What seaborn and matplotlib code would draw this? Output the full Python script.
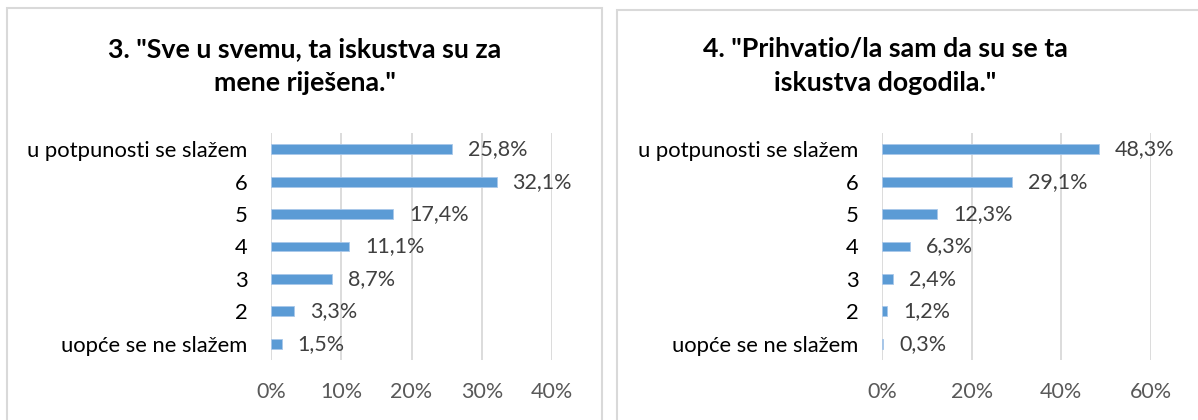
# -*- coding: utf-8 -*-

### Two horizontal bar charts, survey items 3 and 4 ###

import pandas as pd
import matplotlib
matplotlib.use("Agg")
import matplotlib.pyplot as plt
from matplotlib.patches import Rectangle
import seaborn as sns

sns.set_style("white")
plt.rcParams['font.family'] = ['Lato', 'DejaVu Sans']

## data ##
categories = ["u potpunosti se slažem", "6", "5", "4", "3", "2", "uopće se ne slažem"]
item3_values = [25.8, 32.1, 17.4, 11.1, 8.7, 3.3, 1.5]
item4_values = [48.3, 29.1, 12.3, 6.3, 2.4, 1.2, 0.3]
item3_title = '3. "Sve u svemu, ta iskustva su za\nmene riješena."'
item4_title = '4. "Prihvatio/la sam da su se ta\niskustva dogodila."'
item3_ticks = [0, 10, 20, 30, 40]
item4_ticks = [0, 20, 40, 60]

bar_color = '#5B9BD5'
grid_color = '#D9D9D9'

W, H = 1198, 420
fig = plt.figure(figsize=(W / 100, H / 100), dpi=100)


def px(x0, y0, x1, y1):
    # pixel box (top-left origin) -> figure fraction rect
    return [x0 / W, 1 - y1 / H, (x1 - x0) / W, (y1 - y0) / H]


def draw_panel(box, values, ticks, title, title_x):
    ax = fig.add_axes(box)
    df = pd.DataFrame({"Kategorija": categories, "Postotak": values})
    sns.barplot(data=df, x="Postotak", y="Kategorija", order=categories,
                color=bar_color, width=0.3, saturation=1,
                edgecolor='#A9C8EA', linewidth=0.6, ax=ax)
    ax.set_xlim(ticks[0], ticks[-1])
    ax.set_xticks(ticks)
    ax.set_xticklabels([f"{t}%" for t in ticks])
    ax.set_xlabel('')
    ax.set_ylabel('')
    ax.grid(axis='x', color=grid_color, linewidth=1.3)
    ax.set_axisbelow(True)
    sns.despine(ax=ax, top=True, right=True, left=True, bottom=True)
    ax.tick_params(axis='x', length=0, pad=16, labelsize=15.5, labelcolor='#595959')
    ax.tick_params(axis='y', length=0, pad=17, labelsize=15.8, labelcolor='#000000')
    for i, v in enumerate(values):
        ax.annotate(f"{v:.1f}%".replace('.', ','), xy=(v, i), xytext=(11.5, 0),
                    textcoords='offset points', va='center', ha='left',
                    fontsize=15.5, color='#404040')
    fig.text(title_x / W, 1 - 66 / H, title, ha='center', va='center',
             fontsize=19.3, fontweight='bold', color='#000000', linespacing=1.5)
    return ax


draw_panel(px(271, 133, 552, 360), item3_values, item3_ticks, item3_title, 305)
draw_panel(px(882, 133, 1151, 360), item4_values, item4_ticks, item4_title, 885)

# chart area borders
fig.add_artist(Rectangle((7 / W, -0.1), 595 / W, 1.1 - 8 / H, transform=fig.transFigure,
                         fill=False, edgecolor=grid_color, linewidth=1.5, clip_on=False))
fig.add_artist(Rectangle((617 / W, -0.1), 0.6, 1.1 - 10 / H, transform=fig.transFigure,
                         fill=False, edgecolor=grid_color, linewidth=1.5, clip_on=False))

plt.savefig("out.png", dpi=100)
